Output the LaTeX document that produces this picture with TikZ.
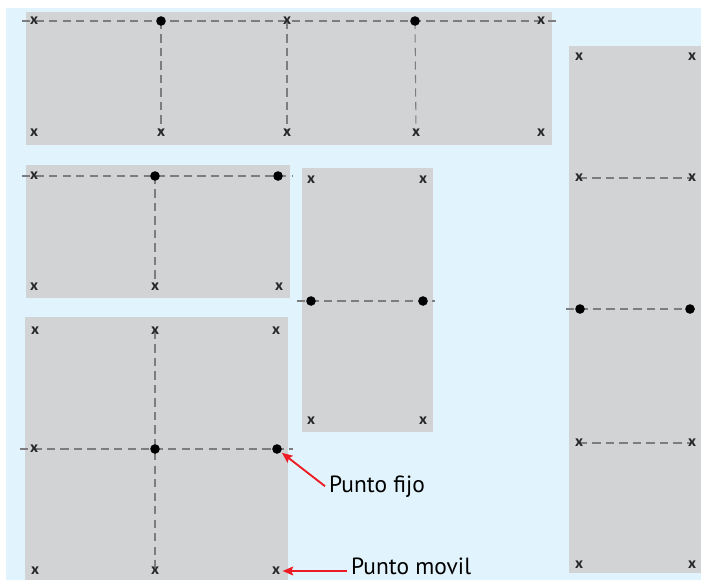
\documentclass[tikz,border=0pt]{standalone}
\usepackage{fontspec}
\setmainfont{PT Sans}
\usetikzlibrary{arrows.meta}
\definecolor{fondo}{RGB}{225,244,253}
\definecolor{placa}{RGB}{209,211,213}
\definecolor{guiagris}{RGB}{125,125,125}
\definecolor{rojo}{RGB}{237,28,36}
\pgfdeclarelayer{bg}
\pgfsetlayers{bg,main}
\tikzset{
  movil/.style={inner sep=0pt, text=black!85, font=\bfseries\fontsize{13}{13}\selectfont},
  fijo/.style={circle, fill=black, inner sep=0pt, minimum size=8.2pt},
  guia/.style={guiagris, line width=0.9pt, dash pattern=on 7pt off 4.5pt},
  etiqueta/.style={font=\fontsize{20}{24}\selectfont},
  flecha/.style={rojo, line width=1.6pt, -{Stealth[length=9pt,width=7.5pt,inset=1.5pt]}}
}

\begin{document}
\begin{tikzpicture}[x=0.03cm,y=-0.03cm]
                \useasboundingbox (0,0) rectangle (701,580);
                % placa superior
                \node[movil] (s1) at (34,21) {x};
                \node[fijo] (s2) at (161,21) {};
                \node[movil] (s3) at (287,21) {x};
                \node[fijo] (s4) at (415,21) {};
                \node[movil] (s5) at (541,21) {x};
                \node[movil] (s6) at (34,133) {x};
                \node[movil] (s7) at (161,133) {x};
                \node[movil] (s8) at (287,133) {x};
                \node[movil] (s9) at (416,133) {x};
                \node[movil] (s10) at (541,133) {x};
                % placa media
                \node[movil] (m1) at (34,176) {x};
                \node[fijo] (m2) at (155,176) {};
                \node[fijo] (m3) at (278,176) {};
                \node[movil] (m4) at (34,287) {x};
                \node[movil] (m5) at (155,287) {x};
                \node[movil] (m6) at (279,287) {x};
                % placa chica
                \node[movil] (p1) at (311,180) {x};
                \node[movil] (p2) at (423,180) {x};
                \node[fijo] (p3) at (311,301) {};
                \node[fijo] (p4) at (423,301) {};
                \node[movil] (p5) at (311,421) {x};
                \node[movil] (p6) at (423,421) {x};
                % placa inferior
                \node[movil] (i1) at (35,331) {x};
                \node[movil] (i2) at (155,331) {x};
                \node[movil] (i3) at (276,331) {x};
                \node[movil] (i4) at (34,449) {x};
                \node[fijo] (i5) at (155,449) {};
                \node[fijo] (i6) at (277,449) {};
                \node[movil] (i7) at (35,571) {x};
                \node[movil] (i8) at (155,571) {x};
                \node[movil] (i9) at (276,571) {x};
                % placa derecha
                \node[movil] (r1) at (579,57) {x};
                \node[movil] (r2) at (692,57) {x};
                \node[movil] (r3) at (579,178) {x};
                \node[movil] (r4) at (692,178) {x};
                \node[fijo] (r5) at (580,309) {};
                \node[fijo] (r6) at (690,309) {};
                \node[movil] (r7) at (579,443) {x};
                \node[movil] (r8) at (692,443) {x};
                \node[movil] (r9) at (579,565) {x};
                \node[movil] (r10) at (692,565) {x};
                % etiquetas
                \node[etiqueta, anchor=base west] (lfijo) at (325,492) {Punto fijo};
                \node[etiqueta, anchor=base west] (lmovil) at (347,574) {Punto movil};
                \draw[flecha, shorten >=1pt] (lfijo.west) -- (i6);
                \draw[flecha, shorten >=2pt] (lmovil.west |- i9) -- (i9);
                \begin{pgfonlayer}{bg}
                \fill[fondo] (6,8) rectangle (701,580);
                \fill[placa] (26,12) rectangle (552,145);
                \fill[placa] (26,165) rectangle (290,298);
                \fill[placa] (302,168) rectangle (433,432);
                \fill[placa] (25,317) rectangle (288,580);
                \fill[placa] (569,46) rectangle (701,573);
                \draw[guia] ([xshift=-10pt]s1.center) -- ([xshift=13pt]s5.center);
                \draw[guia] (s2.center) -- (s7.center);
                \draw[guia] (s3.center) -- (s8.center);
                \draw[guia] (s4.center) -- (s9.center);
                \draw[guia] ([xshift=-10pt]m1.center) -- ([xshift=13pt]m3.center);
                \draw[guia] (m2.center) -- (m5.center);
                \draw[guia] ([xshift=-12pt]p3.center) -- ([xshift=10pt]p4.center);
                \draw[guia] ([xshift=-12pt]i4.center) -- ([xshift=14pt]i6.center);
                \draw[guia] (i2.center) -- (i8.center);
                \draw[guia] (r3.center) -- (r4.center);
                \draw[guia] ([xshift=-12pt]r5.center) -- ([xshift=10pt]r6.center);
                \draw[guia] (r7.center) -- (r8.center);
                \end{pgfonlayer}
            \end{tikzpicture}
\end{document}
